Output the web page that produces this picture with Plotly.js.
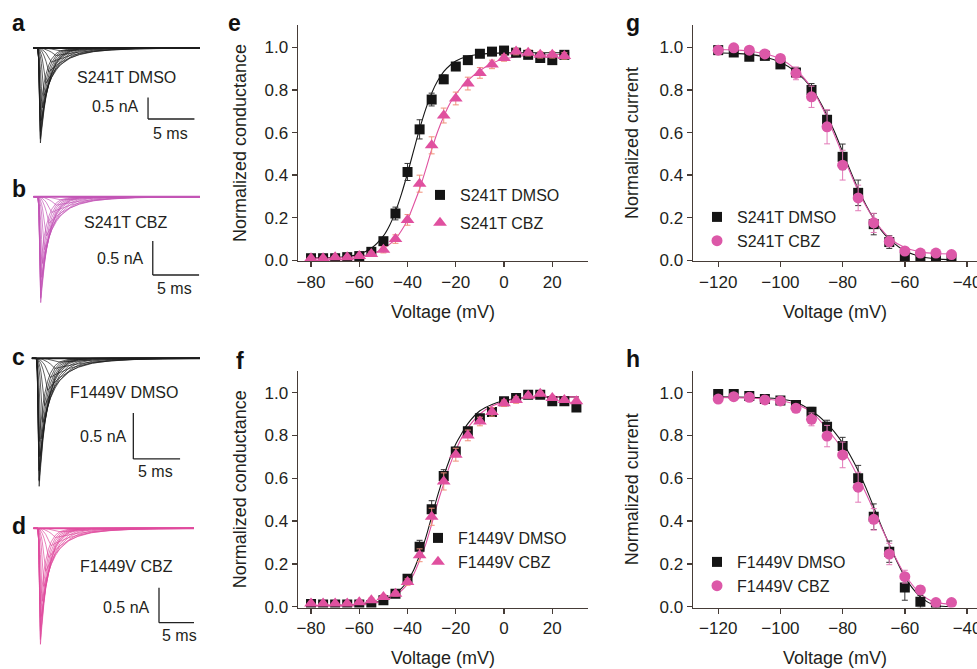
<!DOCTYPE html>
<html><head><meta charset="utf-8">
<script src="https://cdn.plot.ly/plotly-3.0.1.min.js"></script>
<style>html,body{margin:0;padding:0;background:#fff}#chart{width:977px;height:669px}</style>
</head><body><div id="chart"></div>
<script>
// ---------- current traces (panels a-d): shared time base (ms) and normalized sweep shapes ----------
const traceTime = [0,0.5,0.6,0.7,0.8,0.9,1.0,1.2,1.4,1.7,2.0,2.5,3.0,4.0,5.0,6.5,8.5,11,14,18];
const sweepShape = [
 [0,0,0,0,0,0.001,0.001,0.002,0.004,0.007,0.011,0.019,0.03,0.025,0.02,0.015,0.01,0.006,0.003,0.001],
 [0,0,0,0.001,0.002,0.003,0.005,0.01,0.016,0.029,0.045,0.08,0.071,0.055,0.043,0.029,0.018,0.01,0.005,0.002],
 [0,0,0.001,0.003,0.006,0.011,0.017,0.033,0.054,0.096,0.15,0.128,0.11,0.08,0.059,0.037,0.02,0.009,0.004,0.001],
 [0,0,0.002,0.007,0.016,0.028,0.043,0.085,0.14,0.25,0.223,0.184,0.152,0.103,0.07,0.039,0.018,0.007,0.002,0],
 [0,0,0.005,0.018,0.041,0.073,0.114,0.224,0.37,0.321,0.278,0.219,0.173,0.107,0.067,0.033,0.013,0.004,0.001,0],
 [0,0,0.01,0.041,0.092,0.163,0.255,0.5,0.444,0.373,0.312,0.233,0.173,0.096,0.054,0.022,0.007,0.002,0,0],
 [0,0,0.025,0.101,0.227,0.403,0.63,0.546,0.473,0.382,0.309,0.216,0.151,0.074,0.036,0.012,0.003,0,0,0],
 [0,0,0.048,0.19,0.428,0.76,0.699,0.592,0.501,0.39,0.304,0.2,0.132,0.057,0.025,0.007,0.001,0,0,0],
 [0,0,0.097,0.387,0.87,0.791,0.719,0.594,0.491,0.369,0.277,0.172,0.107,0.041,0.016,0.004,0,0,0,0],
 [0,0,0.106,0.422,0.95,0.855,0.77,0.624,0.505,0.368,0.269,0.159,0.094,0.033,0.011,0.002,0,0,0,0],
 [0,0,0.111,0.444,1,0.895,0.801,0.641,0.513,0.368,0.264,0.151,0.087,0.029,0.009,0.002,0,0,0,0],
 [0,0,0.107,0.427,0.96,0.853,0.759,0.6,0.474,0.333,0.234,0.13,0.072,0.022,0.007,0.001,0,0,0,0],
 [0,0,0.098,0.391,0.88,0.777,0.685,0.534,0.416,0.286,0.196,0.105,0.056,0.016,0.005,0,0,0,0,0],
 [0,0,0.086,0.342,0.77,0.674,0.59,0.452,0.346,0.232,0.155,0.08,0.041,0.011,0.003,0,0,0,0,0],
 [0,0,0.072,0.289,0.65,0.563,0.488,0.367,0.276,0.18,0.117,0.057,0.028,0.007,0.002,0,0,0,0,0]
];
const peakNA = {a:2.2, b:1.56, c:1.39, d:1.66};   // peak inward current, nA
const traceLabels = {a:'S241T DMSO', b:'S241T CBZ', c:'F1449V DMSO', d:'F1449V CBZ'};

// ---------- panel e: S241T activation ----------
const eV = [-80,-75,-70,-65,-60,-55,-50,-45,-40,-35,-30,-25,-20,-15,-10,-5,0,5,10,15,20,25];
const eDMSO = [0.01,0.01,0.01,0.015,0.02,0.04,0.09,0.22,0.415,0.615,0.755,0.85,0.91,0.94,0.97,0.98,0.985,0.975,0.965,0.95,0.94,0.965];
const eDMSOerr = [0.005,0.005,0.005,0.005,0.005,0.008,0.012,0.03,0.04,0.045,0.03,0.02,0.015,0.01,0.01,0.01,0.01,0.01,0.01,0.01,0.01,0.01];
const eCBZ = [0.01,0.01,0.015,0.015,0.02,0.03,0.05,0.1,0.19,0.36,0.54,0.68,0.76,0.83,0.88,0.92,0.95,0.98,0.975,0.965,0.965,0.96];
const eCBZerr = [0.005,0.005,0.005,0.005,0.008,0.01,0.015,0.02,0.025,0.04,0.04,0.035,0.03,0.03,0.025,0.02,0.015,0.015,0.015,0.015,0.015,0.015];
const eFitV = [-82,-80,-75,-70,-65,-60,-55,-50,-47.5,-45,-42.5,-40,-37.5,-35,-32.5,-30,-27.5,-25,-22.5,-20,-15,-10,-5,0,10,27];
const eFitDMSO = [0.010,0.011,0.012,0.014,0.018,0.030,0.057,0.115,0.163,0.229,0.312,0.409,0.514,0.617,0.709,0.785,0.843,0.886,0.915,0.936,0.958,0.968,0.972,0.974,0.975,0.975];
const eFitCBZ = [0.01,0.01,0.011,0.012,0.015,0.02,0.03,0.055,0.075,0.10,0.14,0.19,0.26,0.335,0.425,0.52,0.605,0.675,0.735,0.78,0.845,0.89,0.925,0.945,0.962,0.968];

// ---------- panel f: F1449V activation ----------
const fV = [-80,-75,-70,-65,-60,-55,-50,-45,-40,-35,-30,-25,-20,-15,-10,-5,0,5,10,15,20,25,30];
const fDMSO = [0.012,0.01,0.01,0.01,0.01,0.008,0.03,0.06,0.13,0.28,0.455,0.61,0.725,0.82,0.88,0.91,0.96,0.975,0.99,0.99,0.96,0.96,0.93];
const fDMSOerr = [0.005,0.005,0.005,0.005,0.005,0.005,0.008,0.01,0.015,0.03,0.04,0.03,0.02,0.015,0.01,0.01,0.01,0.01,0.01,0.01,0.01,0.01,0.01];
const fCBZ = [0.015,0.015,0.015,0.015,0.02,0.03,0.045,0.06,0.115,0.24,0.42,0.585,0.71,0.8,0.865,0.91,0.95,0.965,0.985,0.995,0.975,0.965,0.96];
const fCBZerr = [0.005,0.005,0.005,0.005,0.008,0.01,0.01,0.01,0.015,0.03,0.04,0.04,0.03,0.025,0.02,0.02,0.015,0.015,0.01,0.01,0.01,0.01,0.01];
const fFitV = [-82,-80,-70,-60,-55,-50,-45,-42.5,-40,-37.5,-35,-32.5,-30,-27.5,-25,-22.5,-20,-17.5,-15,-10,-5,0,5,10,20,31];
const fFitDMSO = [0.005,0.005,0.006,0.01,0.017,0.03,0.06,0.085,0.12,0.17,0.24,0.32,0.42,0.52,0.61,0.69,0.76,0.81,0.855,0.915,0.945,0.962,0.972,0.977,0.98,0.98];
const fFitCBZ = [0.005,0.005,0.006,0.01,0.016,0.027,0.052,0.075,0.105,0.15,0.215,0.29,0.385,0.485,0.575,0.66,0.73,0.79,0.835,0.9,0.937,0.958,0.97,0.976,0.98,0.98];

// ---------- panel g: S241T steady-state inactivation ----------
const gV = [-120,-115,-110,-105,-100,-95,-90,-85,-80,-75,-70,-65,-60,-55,-50,-45];
const gDMSO = [0.987,0.976,0.956,0.96,0.92,0.882,0.8,0.66,0.486,0.317,0.17,0.086,0.016,0.006,0.003,0.003];
const gDMSOerr = [0.01,0.01,0.01,0.01,0.015,0.02,0.03,0.045,0.06,0.06,0.05,0.03,0.01,0.005,0.005,0.005];
const gCBZ = [0.987,0.998,0.987,0.969,0.948,0.878,0.768,0.627,0.447,0.293,0.176,0.089,0.044,0.034,0.034,0.027];
const gCBZerr = [0.01,0.01,0.01,0.01,0.015,0.03,0.05,0.08,0.07,0.06,0.045,0.025,0.01,0.01,0.01,0.01];
const gFitV = [-121,-115,-110,-105,-100,-95,-90,-87.5,-85,-82.5,-80,-77.5,-75,-72.5,-70,-67.5,-65,-60,-55,-50,-44];
const gFitDMSO = [0.975,0.972,0.967,0.955,0.93,0.885,0.81,0.75,0.68,0.6,0.51,0.42,0.335,0.26,0.195,0.14,0.1,0.045,0.018,0.007,0.003];
const gFitCBZ = [0.99,0.988,0.982,0.97,0.945,0.895,0.81,0.745,0.67,0.585,0.495,0.41,0.325,0.255,0.195,0.145,0.105,0.06,0.04,0.032,0.03];

// ---------- panel h: F1449V steady-state inactivation ----------
const hVd = [-120,-115,-110,-105,-100,-95,-90,-85,-80,-75,-70,-65,-60,-55,-50];
const hDMSO = [0.994,0.994,0.984,0.97,0.963,0.942,0.911,0.841,0.751,0.6,0.42,0.257,0.09,0.023,0.003];
const hDMSOerr = [0.01,0.01,0.01,0.01,0.01,0.015,0.02,0.03,0.04,0.06,0.06,0.05,0.06,0.03,0.03];
const hVc = [-120,-115,-110,-105,-100,-95,-90,-85,-80,-75,-70,-65,-60,-55,-50,-45];
const hCBZ = [0.97,0.981,0.978,0.966,0.961,0.927,0.875,0.797,0.709,0.558,0.408,0.246,0.14,0.078,0.019,0.019];
const hCBZerr = [0.01,0.01,0.01,0.01,0.01,0.015,0.03,0.05,0.06,0.07,0.05,0.05,0.03,0.02,0.01,0.01];
const hFitV = [-121,-110,-100,-95,-90,-85,-80,-77.5,-75,-72.5,-70,-67.5,-65,-62.5,-60,-57.5,-55,-52.5,-50,-45];
const hFitDMSO = [0.98,0.978,0.97,0.955,0.915,0.855,0.765,0.705,0.635,0.555,0.465,0.375,0.29,0.21,0.14,0.085,0.045,0.02,0.005,0.0];
const hFitCBZ = [0.978,0.975,0.962,0.945,0.91,0.83,0.735,0.675,0.605,0.53,0.45,0.37,0.29,0.215,0.15,0.1,0.06,0.035,0.02,0.01];

// ---------- styling / layout helpers ----------
const W = 977, H = 669;
const px = v => v / W;
const py = v => 1 - v / H;
const dx = (a, b) => [px(a), px(b)];
const dy = (top, bot) => [py(bot), py(top)];

const BLACK = '#151515';
const PINK = '#e0509f';
const PINKC = '#dc58a8';
const AXC = '#463c37';
const FONT = 'Liberation Sans, Arial, Helvetica, sans-serif';

const data = [];

const tracePanels = [
  {key:'a', ax:'', color:'#1c1c1c'},
  {key:'b', ax:'2', color:'#c355b6'},
  {key:'c', ax:'3', color:'#1c1c1c'},
  {key:'d', ax:'4', color:'#e04b9e'}
];
tracePanels.forEach(p => {
  sweepShape.forEach(row => {
    data.push({
      type:'scatter', mode:'lines', x: traceTime, y: row.map(v => -v * peakNA[p.key]),
      xaxis:'x'+p.ax, yaxis:'y'+p.ax, showlegend:false, hoverinfo:'skip',
      line:{color:p.color, width:0.7}
    });
  });
  data.push({type:'scatter', mode:'lines', x:[traceTime[0], traceTime[traceTime.length-1]], y:[0,0],
    xaxis:'x'+p.ax, yaxis:'y'+p.ax, showlegend:false, hoverinfo:'skip', line:{color:p.color, width:2}});
});

function fitLine(x, y, ax, color) {
  data.push({type:'scatter', mode:'lines', x, y, xaxis:'x'+ax, yaxis:'y'+ax, showlegend:false,
    hoverinfo:'skip', line:{color, width:1.1, shape:'spline', smoothing:0.8}});
}
function pts(x, y, err, ax, name, symbol, size, color, errColor, legend, group) {
  data.push({type:'scatter', mode:'markers', x, y, xaxis:'x'+ax, yaxis:'y'+ax, name,
    legend, legendgroup:group,
    marker:{symbol, size, color, line:{width:0}},
    error_y:{type:'data', array:err, visible:true, color:errColor, thickness:1, width:3}});
}

fitLine(eFitV, eFitDMSO, '5', BLACK);
fitLine(eFitV, eFitCBZ, '5', PINK);
pts(eV, eDMSO, eDMSOerr, '5', 'S241T DMSO', 'square', 10, BLACK, '#333', 'legend', 'e1');
pts(eV, eCBZ, eCBZerr, '5', 'S241T CBZ', 'triangle-up', 12, PINK, '#f0907a', 'legend', 'e2');
fitLine(fFitV, fFitDMSO, '6', BLACK);
fitLine(fFitV, fFitCBZ, '6', PINK);
pts(fV, fDMSO, fDMSOerr, '6', 'F1449V DMSO', 'square', 10, BLACK, '#333', 'legend2', 'f1');
pts(fV, fCBZ, fCBZerr, '6', 'F1449V CBZ', 'triangle-up', 12, PINK, '#f0907a', 'legend2', 'f2');
fitLine(gFitV, gFitDMSO, '7', BLACK);
fitLine(gFitV, gFitCBZ, '7', PINKC);
pts(gV, gDMSO, gDMSOerr, '7', 'S241T DMSO', 'square', 10, BLACK, '#333', 'legend3', 'g1');
pts(gV, gCBZ, gCBZerr, '7', 'S241T CBZ', 'circle', 11, PINKC, '#e27ab8', 'legend3', 'g2');
fitLine(hFitV, hFitDMSO, '8', BLACK);
fitLine(hFitV, hFitCBZ, '8', PINKC);
pts(hVd, hDMSO, hDMSOerr, '8', 'F1449V DMSO', 'square', 10, BLACK, '#333', 'legend4', 'h1');
pts(hVc, hCBZ, hCBZerr, '8', 'F1449V CBZ', 'circle', 11, PINKC, '#e27ab8', 'legend4', 'h2');

function hidden(domain, range) {
  return {domain, range, visible:false, fixedrange:true};
}
function sAxis(domain, range, tickvals, title, standoff, fmt, anchor) {
  return {
    domain, range, tickvals, anchor, tickformat: fmt,
    showline:true, linecolor:AXC, linewidth:1.4, mirror:false,
    ticks:'outside', ticklen:5, tickwidth:1.4, tickcolor:AXC,
    tickfont:{size:17, color:'#231f20', family:FONT},
    showgrid:false, zeroline:false, ticklabeloverflow:'allow',
    title:{text:title, font:{size:18, color:'#231f20', family:FONT}, standoff}
  };
}

const yTicks = [0,0.2,0.4,0.6,0.8,1.0];
const legendBase = {xanchor:'left', yanchor:'top', bgcolor:'rgba(0,0,0,0)', borderwidth:0,
  font:{size:16, color:'#231f20', family:FONT}, itemwidth:30, traceorder:'grouped'};

const layout = {
  width:W, height:H, margin:{l:0,r:0,t:0,b:0},
  paper_bgcolor:'#ffffff', plot_bgcolor:'rgba(0,0,0,0)',
  font:{family:FONT, color:'#231f20'},
  showlegend:true,
  xaxis: hidden(dx(33,200), [0,18]),   yaxis: hidden(dy(30,160), [-2.594,0.417]),
  xaxis2: hidden(dx(33.3,200), [0,18]), yaxis2: hidden(dy(180,320), [-1.816,0.246]),
  xaxis3: hidden(dx(31.7,200), [0,18]), yaxis3: hidden(dy(345,495), [-1.484,0.144]),
  xaxis4: hidden(dx(33.3,194), [0,18]), yaxis4: hidden(dy(515,655), [-1.813,0.19]),
  xaxis5: sAxis(dx(298,588), [-85.4,34.8], [-80,-60,-40,-20,0,20], 'Voltage (mV)', 14, null, 'y5'),
  yaxis5: sAxis(dy(25,261), [-0.003,1.105], yTicks, 'Normalized conductance', 13, '.1f', 'x5'),
  xaxis6: sAxis(dx(298,588), [-85.4,34.8], [-80,-60,-40,-20,0,20], 'Voltage (mV)', 14, null, 'y6'),
  yaxis6: sAxis(dy(371,607.5), [-0.004,1.101], yTicks, 'Normalized conductance', 13, '.1f', 'x6'),
  xaxis7: sAxis(dx(693,977), [-128.1,-36.8], [-120,-100,-80,-60,-40], 'Voltage (mV)', 14, null, 'y7'),
  yaxis7: sAxis(dy(25,261), [-0.003,1.105], yTicks, 'Normalized current', 16, '.1f', 'x7'),
  xaxis8: sAxis(dx(693,977), [-128.1,-36.8], [-120,-100,-80,-60,-40], 'Voltage (mV)', 14, null, 'y8'),
  yaxis8: sAxis(dy(371,607.5), [-0.004,1.101], yTicks, 'Normalized current', 16, '.1f', 'x8'),
  legend:  Object.assign({}, legendBase, {x:px(420), y:py(178), tracegroupgap:4}),
  legend2: Object.assign({}, legendBase, {x:px(418), y:py(521), tracegroupgap:0}),
  legend3: Object.assign({}, legendBase, {x:px(697), y:py(200), tracegroupgap:0}),
  legend4: Object.assign({}, legendBase, {x:px(697), y:py(545), tracegroupgap:0}),
  shapes: [],
  annotations: []
};

const bars = [
  {ax:'', t:12.4, y:-1.644},
  {ax:'2', t:12.9, y:-1.153},
  {ax:'3', t:10.87, y:-1.093},
  {ax:'4', t:14.08, y:-1.35}
];
bars.forEach(b => {
  const ln = {color:'#222', width:1.3};
  layout.shapes.push({type:'line', xref:'x'+b.ax, yref:'y'+b.ax, x0:b.t, x1:b.t, y0:b.y, y1:b.y+0.5, line:ln});
  layout.shapes.push({type:'line', xref:'x'+b.ax, yref:'y'+b.ax, x0:b.t, x1:b.t+5, y0:b.y, y1:b.y, line:ln});
});

function ann(text, x, y, opts) {
  layout.annotations.push(Object.assign({text, xref:'paper', yref:'paper', x:px(x), y:py(y),
    showarrow:false, xanchor:'center', yanchor:'middle',
    font:{size:16, color:'#231f20', family:FONT}}, opts || {}));
}
ann(traceLabels.a, 126, 77);
ann('0.5 nA', 141, 107, {xanchor:'right'});
ann('5 ms', 170.5, 133);
ann(traceLabels.b, 125.5, 223);
ann('0.5 nA', 146, 258, {xanchor:'right'});
ann('5 ms', 174.7, 288.5);
ann(traceLabels.c, 124, 392.7);
ann('0.5 nA', 129, 436.7, {xanchor:'right'});
ann('5 ms', 155.5, 471);
ann(traceLabels.d, 126, 566.7);
ann('0.5 nA', 152, 607.3, {xanchor:'right'});
ann('5 ms', 179, 635);

const letters = [['a',18.5,23],['b',19,189.5],['c',18,357],['d',19,526],['e',234.5,23],['f',240,361],['g',632.5,23],['h',633,359]];
letters.forEach(l => ann('<b>'+l[0]+'</b>', l[1], l[2], {font:{size:23, color:'#111', family:FONT}}));

Plotly.newPlot('chart', data, layout, {staticPlot:true, displayModeBar:false});
</script></body></html>
